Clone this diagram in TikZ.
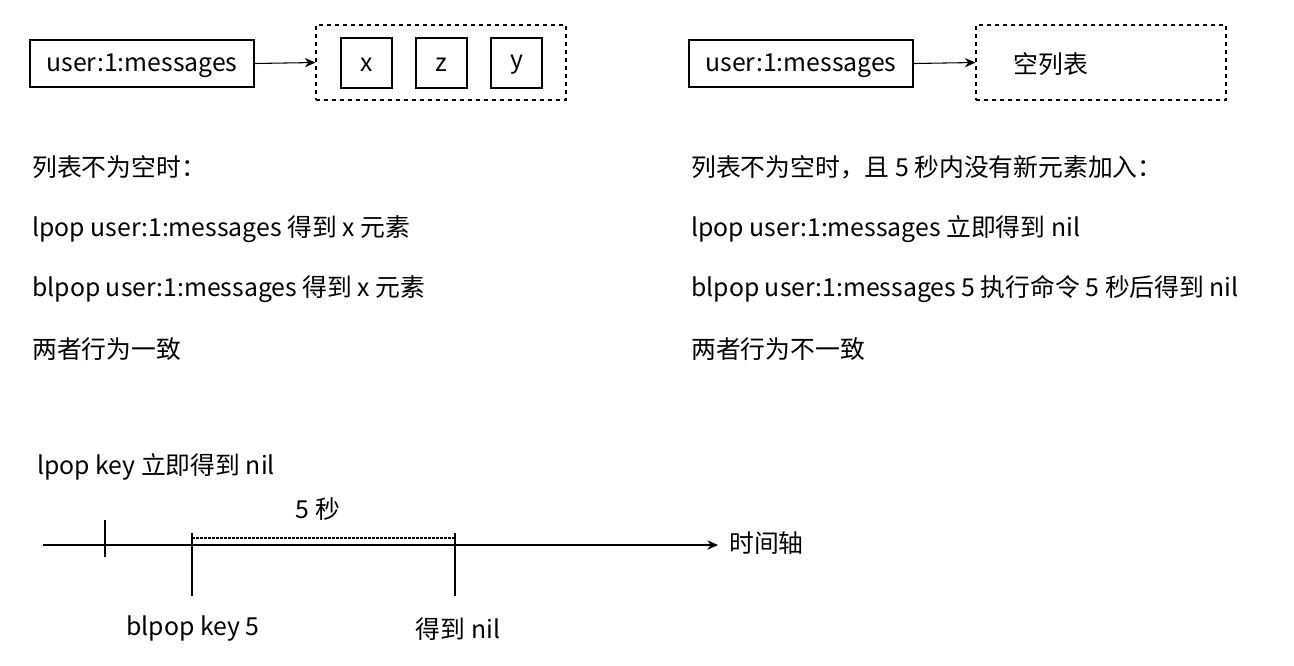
\documentclass[tikz,border=0pt]{standalone}
\usepackage{fontspec}
\setmainfont{Noto Sans CJK SC}
\usetikzlibrary{arrows.meta}
\begin{document}
\begin{tikzpicture}[x=0.75pt,y=-0.75pt,
  txt/.style={font=\fontsize{18.6}{22}\selectfont,inner sep=0pt},
  box/.style={draw,line width=0.8pt,inner sep=0pt,font=\fontsize{18.6}{22}\selectfont},
  dbox/.style={draw,dashed,line width=0.8pt,inner sep=0pt},
  arr/.style={-{Stealth[length=8pt,width=7pt]},line width=0.8pt}]
\useasboundingbox (0,0) rectangle (1294,665);
% left top
\node[box,minimum width=224*0.75pt,minimum height=47*0.75pt] (k1) at (142,63.5) {};
\node[txt] (k1t) at (142,66) {user:1:messages};
\node[dbox,minimum width=250*0.75pt,minimum height=75*0.75pt] (d1) at (441,62.5) {};
\node[box,minimum width=51*0.75pt,minimum height=50*0.75pt] (x) at (366.5,63) {};
\node[box,minimum width=51*0.75pt,minimum height=50*0.75pt] (z) at (441.5,63) {};
\node[box,minimum width=51*0.75pt,minimum height=50*0.75pt] (y) at (516.5,63) {};
\node[txt] at (366.5,65) {x};
\node[txt] at (441.5,65) {z};
\node[txt] at (516.5,65) {y};
\draw[arr] (k1.east) -- (d1.west);
% right top
\node[box,minimum width=224*0.75pt,minimum height=47*0.75pt] (k2) at (801,63.5) {};
\node[txt] (k2t) at (801,66) {user:1:messages};
\node[dbox,minimum width=250*0.75pt,minimum height=75*0.75pt] (d2) at (1101,62.5) {};
\node[txt] (e) at (1051,64) {空列表};
\draw[arr] (k2.east) -- (d2.west);
% texts
\node[txt,anchor=west] (l1) at (32,167) {列表不为空时：};
\node[txt,anchor=west] (l2) at (32,229) {lpop user:1:messages 得到 x 元素};
\node[txt,anchor=west] (l3) at (32,289) {blpop user:1:messages 得到 x 元素};
\node[txt,anchor=west] (l4) at (32,349) {两者行为一致};
\node[txt,anchor=west] (r1) at (691,167) {列表不为空时，且 5 秒内没有新元素加入：};
\node[txt,anchor=west] (r2) at (691,229) {lpop user:1:messages 立即得到 nil};
\node[txt,anchor=west] (r3) at (691,289) {blpop user:1:messages 5 执行命令 5 秒后得到 nil};
\node[txt,anchor=west] (r4) at (691,349) {两者行为不一致};
% timeline
\coordinate (ts) at (43,545);
\coordinate (te) at (718,545);
\draw[arr] (ts) -- (te);
\node[txt,anchor=west] (tl) at (729,543) {时间轴};
\coordinate (a1) at (105,520); \coordinate (a2) at (105,557);
\coordinate (b1) at (192,533); \coordinate (b2) at (192,596);
\coordinate (c1) at (455,533); \coordinate (c2) at (455,596);
\draw[line width=0.8pt] (a1) -- (a2);
\draw[line width=0.8pt] (b1) -- (b2);
\draw[line width=0.8pt] (c1) -- (c2);
\coordinate (p1) at (192,538); \coordinate (p2) at (455,538);
\draw[dashed,dash pattern=on 2pt off 1pt,line width=0.8pt] (p1) -- (p2);
\node[txt] (s5) at (318,509) {5 秒};
\node[txt,anchor=west] (lp) at (37,467) {lpop key 立即得到 nil};
\node[txt] (bk) at (193,629) {blpop key 5};
\node[txt] (gn) at (458,629) {得到 nil};
\end{tikzpicture}
\end{document}
